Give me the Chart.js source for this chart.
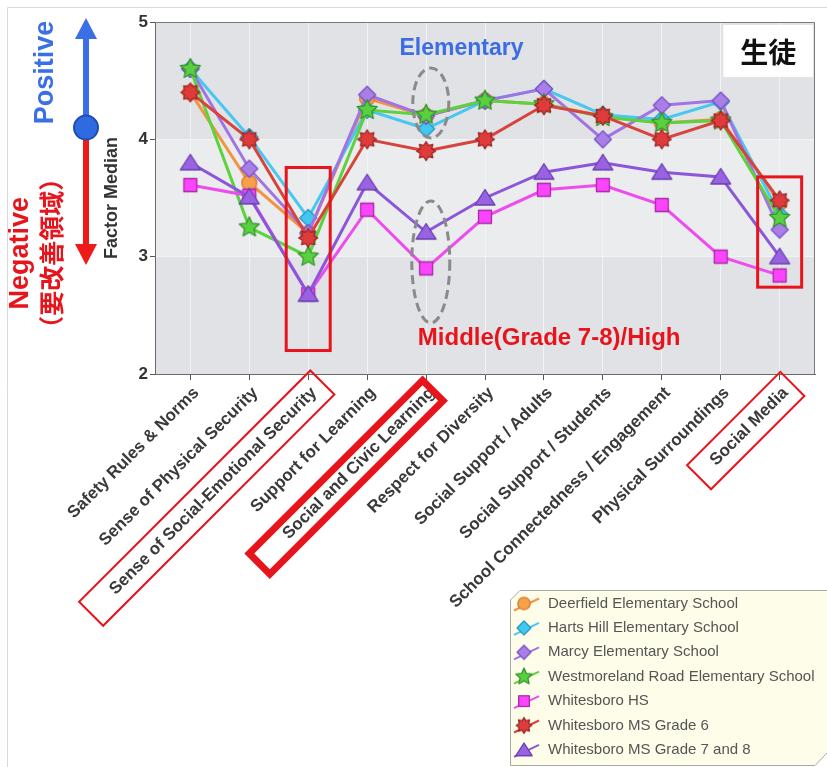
<!DOCTYPE html>
<html>
<head>
<meta charset="utf-8">
<script src="https://cdn.jsdelivr.net/npm/chart.js@4/dist/chart.umd.min.js"></script>
<style>
html,body{margin:0;padding:0;background:#ffffff;}
#wrap{position:relative;width:827px;height:767px;}
</style>
</head>
<body>
<div id="wrap"><canvas id="c" width="827" height="767"></canvas></div>
<script>
// ---------- data ----------
const categories = [
  "Safety Rules & Norms",
  "Sense of Physical Security",
  "Sense of Social-Emotional Security",
  "Support for Learning",
  "Social and Civic Learning",
  "Respect for Diversity",
  "Social Support / Adults",
  "Social Support / Students",
  "School Connectedness / Engagement",
  "Physical Surroundings",
  "Social Media"
];
const seriesNames = [
  "Deerfield Elementary School",
  "Harts Hill Elementary School",
  "Marcy Elementary School",
  "Westmoreland Road Elementary School",
  "Whitesboro HS",
  "Whitesboro MS Grade 6",
  "Whitesboro MS Grade 7 and 8"
];
const deerfield    = [4.40, 3.63, 3.20, 4.35, 4.20, 4.33, 4.30, 4.20, 4.14, 4.17, 3.46];
const hartsHill    = [4.60, 4.02, 3.33, 4.25, 4.09, 4.33, 4.43, 4.21, 4.17, 4.32, 3.36];
const marcy        = [4.60, 3.75, 3.20, 4.38, 4.20, 4.33, 4.43, 4.00, 4.29, 4.33, 3.23];
const westmoreland = [4.60, 3.25, 3.00, 4.25, 4.21, 4.33, 4.30, 4.19, 4.14, 4.16, 3.33];
const whitesboroHS = [3.61, 3.52, 2.68, 3.40, 2.90, 3.34, 3.57, 3.61, 3.44, 3.00, 2.84];
const msGrade6     = [4.40, 4.00, 3.16, 4.00, 3.90, 4.00, 4.29, 4.20, 4.00, 4.16, 3.48];
const msGrade78    = [3.80, 3.51, 2.68, 3.63, 3.21, 3.50, 3.72, 3.80, 3.72, 3.68, 3.00];
const yTicks = [2, 3, 4, 5];
const yTitle = "Factor Median";

// ---------- styles ----------
const FONT = '"Liberation Sans", Arial, Helvetica, sans-serif';
const CJK = '"Noto Sans CJK JP", "Noto Sans CJK SC", sans-serif';
const styles = [
  {line:'#f39440', fill:'#f7a04c', stroke:'#d9782a', kind:'circle'},
  {line:'#48c8f0', fill:'#40c8f0', stroke:'#2a98c0', kind:'diamond'},
  {line:'#a273e2', fill:'#a97ee8', stroke:'#7a52c2', kind:'diamond'},
  {line:'#5cd23c', fill:'#58d040', stroke:'#35952c', kind:'star5'},
  {line:'#ee4cee', fill:'#fb44fb', stroke:'#a82ca8', kind:'square'},
  {line:'#d8433d', fill:'#e03b3b', stroke:'#9c2626', kind:'burst'},
  {line:'#8c56d8', fill:'#9862e2', stroke:'#6a3eb0', kind:'triangle'}
];
const allSeries = [deerfield, hartsHill, marcy, westmoreland, whitesboroHS, msGrade6, msGrade78];

function makeMarker(kind, fill, stroke, k) {
  const s = Math.ceil(26 * k);
  const c = document.createElement('canvas');
  c.width = s; c.height = s;
  const g = c.getContext('2d');
  const cx = s / 2, cy = s / 2;
  g.fillStyle = fill; g.strokeStyle = stroke; g.lineWidth = 1.3; g.lineJoin = 'round';
  g.beginPath();
  function starPath(n, ro, ri) {
    for (let i = 0; i < n * 2; i++) {
      const r = i % 2 === 0 ? ro : ri;
      const a = -Math.PI / 2 + i * Math.PI / n;
      const px = cx + r * Math.cos(a), py = cy + r * Math.sin(a);
      if (i === 0) g.moveTo(px, py); else g.lineTo(px, py);
    }
    g.closePath();
  }
  if (kind === 'circle') {
    g.arc(cx, cy, 7.5 * k, 0, Math.PI * 2);
  } else if (kind === 'diamond') {
    const r = 8.5 * k;
    g.moveTo(cx, cy - r); g.lineTo(cx + r, cy); g.lineTo(cx, cy + r); g.lineTo(cx - r, cy); g.closePath();
  } else if (kind === 'star5') {
    starPath(5, 10.5 * k, 5 * k);
  } else if (kind === 'burst') {
    starPath(8, 9.5 * k, 6.2 * k);
  } else if (kind === 'square') {
    g.rect(cx - 6.5 * k, cy - 6.5 * k, 13 * k, 13 * k);
  } else if (kind === 'triangle') {
    g.moveTo(cx, cy - 8.5 * k); g.lineTo(cx + 10 * k, cy + 7 * k); g.lineTo(cx - 10 * k, cy + 7 * k); g.closePath();
  }
  g.fill(); g.stroke();
  return c;
}
const markers = styles.map(s => makeMarker(s.kind, s.fill, s.stroke, 1));
const legendMarkers = styles.map(s => makeMarker(s.kind, s.fill, s.stroke, 0.82));

const datasets = allSeries.map((vals, i) => ({
  label: seriesNames[i],
  data: vals.map((v, j) => ({x: j, y: v})),
  borderColor: styles[i].line,
  backgroundColor: styles[i].fill,
  borderWidth: 3,
  pointStyle: markers[i],
  pointRadius: 9,
  tension: 0,
  fill: false,
  order: allSeries.length - 1 - i
}));

// ---------- plugins ----------
const bgPlugin = {
  id: 'bands',
  beforeDraw(chart) {
    const {ctx, chartArea: a, scales: {y}} = chart;
    ctx.save();
    ctx.fillStyle = '#ffffff';
    ctx.fillRect(0, 0, chart.width, chart.height);
    ctx.strokeStyle = '#dadada'; ctx.lineWidth = 1;
    ctx.beginPath(); ctx.moveTo(7.5, chart.height); ctx.lineTo(7.5, 7.5); ctx.lineTo(chart.width, 7.5); ctx.stroke();
    ctx.fillStyle = '#e1e2e5';
    ctx.fillRect(a.left, a.top, a.right - a.left, a.bottom - a.top);
    ctx.fillStyle = '#ebecee';
    const y4 = y.getPixelForValue(4), y3 = y.getPixelForValue(3);
    ctx.fillRect(a.left, y4, a.right - a.left, y3 - y4);
    ctx.restore();
  }
};

function rotText(ctx, text, x, y, font, color) {
  ctx.save();
  ctx.translate(x, y); ctx.rotate(-Math.PI / 2);
  ctx.font = font; ctx.fillStyle = color; ctx.textAlign = 'center'; ctx.textBaseline = 'middle';
  ctx.fillText(text, 0, 0);
  ctx.restore();
}

const annoPlugin = {
  id: 'anno',
  afterDatasetsDraw(chart) {
    const {ctx, chartArea: a, scales: {x, y}} = chart;
    ctx.save();
    ctx.strokeStyle = '#e8141c'; ctx.lineWidth = 3;
    [[2, 3.76, 2.2], [10, 3.68, 2.74]].forEach(([c, vt, vb]) => {
      const px = x.getPixelForValue(c);
      const t = y.getPixelForValue(vt), b = y.getPixelForValue(vb);
      ctx.strokeRect(px - 22, t, 44, b - t);
    });
    ctx.strokeStyle = '#8a8a8a'; ctx.lineWidth = 3; ctx.setLineDash([9, 5]);
    [[4.08, 4.31, 18, 35], [4.08, 2.955, 19, 61]].forEach(([c, v, rx, ry]) => {
      ctx.beginPath();
      ctx.ellipse(x.getPixelForValue(c), y.getPixelForValue(v), rx, ry, 0, 0, Math.PI * 2);
      ctx.stroke();
    });
    ctx.setLineDash([]);
    ctx.textBaseline = 'middle';
    ctx.font = 'bold 23px ' + FONT;
    ctx.fillStyle = '#3c6de4'; ctx.textAlign = 'center';
    ctx.fillText('Elementary', x.getPixelForValue(4.6), y.getPixelForValue(4.77));
    ctx.font = 'bold 24px ' + FONT;
    ctx.fillStyle = '#e8141c'; ctx.textAlign = 'left';
    ctx.fillText('Middle(Grade 7-8)/High', x.getPixelForValue(3.86), y.getPixelForValue(2.306));
    const bx0 = x.getPixelForValue(9.045), bx1 = x.getPixelForValue(10.566);
    const by0 = y.getPixelForValue(4.974), by1 = y.getPixelForValue(4.531);
    ctx.fillStyle = '#ffffff';
    ctx.fillRect(bx0, by0, bx1 - bx0, by1 - by0);
    ctx.fillStyle = '#111111'; ctx.textAlign = 'center';
    ctx.font = 'bold 28px ' + CJK;
    ctx.fillText('生徒', (bx0 + bx1) / 2, (by0 + by1) / 2 + 1);
    ctx.restore();
  },
  afterDraw(chart) {
    const {ctx, chartArea: a, scales: {x, y}} = chart;
    ctx.save();
    ctx.strokeStyle = '#7a7a7a'; ctx.lineWidth = 1;
    ctx.beginPath();
    ctx.moveTo(a.left, a.top + 0.5); ctx.lineTo(a.right - 0.5, a.top + 0.5); ctx.lineTo(a.right - 0.5, a.bottom);
    ctx.stroke();

    const boxes = [[2, -323, 4, 2], [4, -252, -7, 7], [10, -130, 2, 2]];
    boxes.forEach(([c, u0, u1, lw]) => {
      const px = x.getPixelForValue(c);
      ctx.save();
      ctx.translate(px, a.bottom);
      ctx.rotate(-Math.PI / 4);
      ctx.strokeStyle = '#e8141c'; ctx.lineWidth = lw;
      const v0 = lw > 3 ? 2 : -1, v1 = lw > 3 ? 31 : 33;
      ctx.strokeRect(u0, v0, u1 - u0, v1 - v0);
      ctx.restore();
    });

    const ax = 86;
    const yc = y.getPixelForValue(4.1), yTop = y.getPixelForValue(5.035), yBot = y.getPixelForValue(2.93);
    ctx.lineWidth = 6;
    ctx.strokeStyle = '#3a6fe6'; ctx.fillStyle = '#3a6fe6';
    ctx.beginPath(); ctx.moveTo(ax, yc); ctx.lineTo(ax, yTop + 18); ctx.stroke();
    ctx.beginPath(); ctx.moveTo(ax, yTop); ctx.lineTo(ax + 11, yTop + 21); ctx.lineTo(ax - 11, yTop + 21); ctx.closePath(); ctx.fill();
    ctx.strokeStyle = '#ee1a1a'; ctx.fillStyle = '#ee1a1a';
    ctx.beginPath(); ctx.moveTo(ax, yc); ctx.lineTo(ax, yBot - 18); ctx.stroke();
    ctx.beginPath(); ctx.moveTo(ax, yBot); ctx.lineTo(ax + 11, yBot - 21); ctx.lineTo(ax - 11, yBot - 21); ctx.closePath(); ctx.fill();
    ctx.beginPath(); ctx.arc(ax, yc, 12, 0, Math.PI * 2);
    ctx.fillStyle = '#2f6ae0'; ctx.fill();
    ctx.lineWidth = 2; ctx.strokeStyle = '#1f4eb0'; ctx.stroke();
    rotText(ctx, 'Positive', 46, y.getPixelForValue(4.57), 'bold 27px ' + FONT, '#3a6fe6');
    rotText(ctx, 'Negative', 21, y.getPixelForValue(3.03), 'bold 27px ' + FONT, '#e8141c');
    rotText(ctx, '（要改善領域）', 51, y.getPixelForValue(3.03), 'bold 25px ' + CJK, '#e8141c');

    ctx.beginPath();
    ctx.moveTo(510.5, 600); ctx.lineTo(520, 590.5); ctx.lineTo(828, 590.5); ctx.lineTo(828, 752);
    ctx.lineTo(815, 765.5); ctx.lineTo(510.5, 765.5); ctx.closePath();
    ctx.fillStyle = '#fdfde9'; ctx.fill();
    ctx.strokeStyle = '#a8a8a8'; ctx.lineWidth = 1; ctx.stroke();
    ctx.font = '15px ' + FONT; ctx.textAlign = 'left'; ctx.textBaseline = 'middle';
    seriesNames.forEach((name, i) => {
      const ry = 603.5 + i * 24.4;
      ctx.strokeStyle = styles[i].line; ctx.lineWidth = 2;
      ctx.beginPath(); ctx.moveTo(514, ry + 7); ctx.lineTo(539, ry - 5); ctx.stroke();
      const m = legendMarkers[i];
      ctx.drawImage(m, 524 - m.width / 2, ry - m.height / 2);
      ctx.fillStyle = '#555555';
      ctx.fillText(name, 548, ry);
    });
    ctx.restore();
  }
};

// ---------- chart ----------
new Chart(document.getElementById('c'), {
  type: 'line',
  data: {datasets},
  options: {
    responsive: false,
    animation: false,
    layout: {padding: {top: 22, right: 2, left: 0, bottom: 0}},
    plugins: {legend: {display: false}, tooltip: {enabled: false}},
    scales: {
      x: {
        type: 'linear', min: -0.6, max: 10.6,
        afterBuildTicks: s => { s.ticks = categories.map((_, i) => ({value: i})); },
        afterFit: s => { s.height = 393; },
        grid: {color: '#f2f3f5', tickColor: '#555555', tickLength: 6, lineWidth: 1},
        border: {color: '#6a6a6a', width: 1},
        ticks: {
          autoSkip: false, minRotation: 45, maxRotation: 45, labelOffset: 6, padding: 3,
          color: '#3a3a3a', font: {family: FONT, size: 17, weight: 'bold'},
          callback: v => categories[v] ?? ''
        }
      },
      y: {
        min: 2, max: 5,
        afterBuildTicks: s => { s.ticks = yTicks.map(v => ({value: v})); },
        afterFit: s => { s.width = 155; },
        grid: {color: c => (c.tick && (c.tick.value === 2 || c.tick.value === 5)) ? 'rgba(0,0,0,0)' : '#f3f4f6', tickColor: '#555555', tickLength: 5},
        border: {color: '#6a6a6a', width: 1},
        ticks: {color: '#333333', padding: 2, font: {family: FONT, size: 17, weight: 'bold'}},
        title: {display: true, text: yTitle, color: '#333333', font: {family: FONT, size: 18, weight: 'bold'}, padding: {top: 101, bottom: 0}}
      }
    }
  },
  plugins: [bgPlugin, annoPlugin]
});
</script>
</body>
</html>
